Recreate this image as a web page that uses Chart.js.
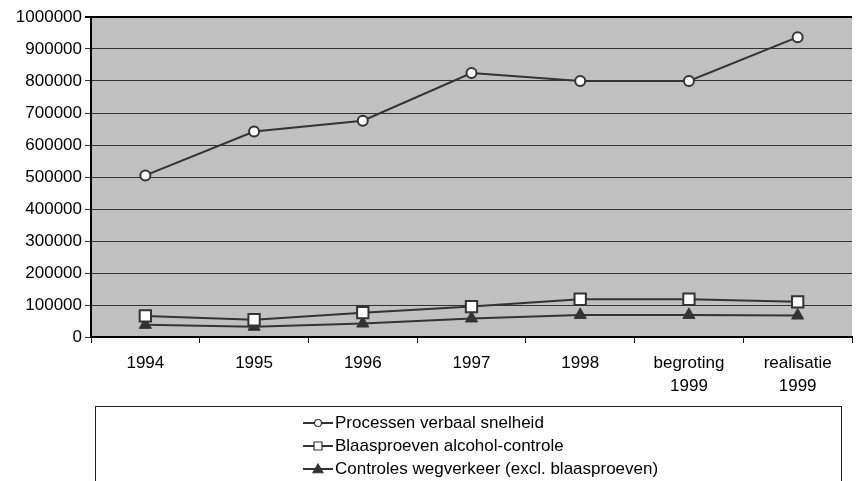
<!DOCTYPE html>
<html>
<head>
<meta charset="utf-8">
<script src="https://cdn.jsdelivr.net/npm/chart.js@4/dist/chart.umd.min.js"></script>
<style>
  html, body { margin: 0; padding: 0; background: #fff; overflow: hidden; }
  #wrap { width: 862px; height: 481px; }
</style>
</head>
<body>
<div id="wrap"><canvas id="chart" width="862" height="481"></canvas></div>
<script>
// categories and series
const categories = [["1994"], ["1995"], ["1996"], ["1997"], ["1998"], ["begroting", "1999"], ["realisatie", "1999"]];
const processen = [505000, 642000, 676000, 825000, 800000, 800000, 937000];
const blaasproeven = [66000, 54000, 76000, 95000, 118000, 118000, 110000];
const controles = [38000, 32000, 42000, 58000, 69000, 69000, 67000];
const seriesNames = ["Processen verbaal snelheid", "Blaasproeven alcohol-controle", "Controles wegverkeer (excl. blaasproeven)"];

const FONT = "Arial, 'Liberation Sans', sans-serif";
const INK = "#333";

// grey plot background
const plotBackground = {
    id: "plotBackground",
    beforeDraw(chart) {
        const { ctx, chartArea: a } = chart;
        ctx.save();
        ctx.fillStyle = "#c0c0c0";
        ctx.fillRect(a.left, a.top, a.right - a.left, a.bottom - a.top);
        ctx.restore();
    }
};

function marker(ctx, style, x, y, r) {
    ctx.beginPath();
    if (style === "circle") {
        ctx.arc(x, y, r, 0, Math.PI * 2);
        ctx.fillStyle = "#fff";
    } else if (style === "rect") {
        ctx.rect(x - r, y - r, r * 2, r * 2);
        ctx.fillStyle = "#fff";
    } else {
        ctx.moveTo(x, y - r);
        ctx.lineTo(x + r, y + r * 0.75);
        ctx.lineTo(x - r, y + r * 0.75);
        ctx.closePath();
        ctx.fillStyle = INK;
    }
    ctx.fill();
    ctx.stroke();
}

// boxed legend, one entry per row
const boxLegend = {
    id: "boxLegend",
    afterDraw(chart) {
        const ctx = chart.ctx;
        ctx.save();
        ctx.strokeStyle = "#222";
        ctx.lineWidth = 1;
        ctx.strokeRect(95.5, 406.5, 746, 100);
        const sizes = [3.5, 4, 5];
        chart.data.datasets.forEach((ds, i) => {
            const y = 423 + i * 23;
            ctx.strokeStyle = INK;
            ctx.lineWidth = 2;
            ctx.beginPath();
            ctx.moveTo(303, y);
            ctx.lineTo(333, y);
            ctx.stroke();
            ctx.lineWidth = 1.2;
            marker(ctx, ds.pointStyle, 318, y, sizes[i]);
            ctx.fillStyle = "#000";
            ctx.font = "17px " + FONT;
            ctx.textBaseline = "middle";
            ctx.textAlign = "left";
            ctx.fillText(ds.label, 335, y);
        });
        ctx.restore();
    }
};

const ctx = document.getElementById("chart").getContext("2d");
new Chart(ctx, {
    type: "line",
    data: {
        labels: categories,
        datasets: [
            {
                label: seriesNames[0],
                data: processen,
                borderColor: INK,
                borderWidth: 2,
                pointStyle: "circle",
                pointRadius: 5,
                pointBackgroundColor: "#fff",
                pointBorderColor: INK,
                pointBorderWidth: 2
            },
            {
                label: seriesNames[1],
                data: blaasproeven,
                borderColor: INK,
                borderWidth: 2,
                pointStyle: "rect",
                pointRadius: 8,
                pointBackgroundColor: "#fff",
                pointBorderColor: INK,
                pointBorderWidth: 2
            },
            {
                label: seriesNames[2],
                data: controles,
                borderColor: INK,
                borderWidth: 2,
                pointStyle: "triangle",
                pointRadius: 7,
                pointBackgroundColor: INK,
                pointBorderColor: INK,
                pointBorderWidth: 1
            }
        ]
    },
    options: {
        responsive: false,
        animation: false,
        layout: { padding: { top: 17, right: 1, left: 0, bottom: 0 } },
        plugins: {
            legend: { display: false },
            tooltip: { enabled: false }
        },
        scales: {
            x: {
                offset: true,
                grid: { offset: true, drawOnChartArea: false, tickLength: 6, color: "#000", lineWidth: 1 },
                border: { color: "#000", width: 2 },
                ticks: { color: "#000", font: { family: FONT, size: 17, lineHeight: 1.4 }, padding: 8, maxRotation: 0, autoSkip: false },
                afterFit: s => { s.height = 144; }
            },
            y: {
                min: 0,
                max: 1000000,
                grid: {
                    tickLength: 6,
                    color: c => c.tick && c.tick.value === 1000000 ? "#000" : "#333",
                    lineWidth: c => c.tick && c.tick.value === 1000000 ? 2 : 1
                },
                border: { color: "#000", width: 2 },
                ticks: {
                    stepSize: 100000,
                    color: "#000",
                    font: { family: FONT, size: 17 },
                    padding: 3,
                    callback: v => String(v)
                },
                afterFit: s => { s.width = 91; }
            }
        }
    },
    plugins: [plotBackground, boxLegend]
});
</script>
</body>
</html>
